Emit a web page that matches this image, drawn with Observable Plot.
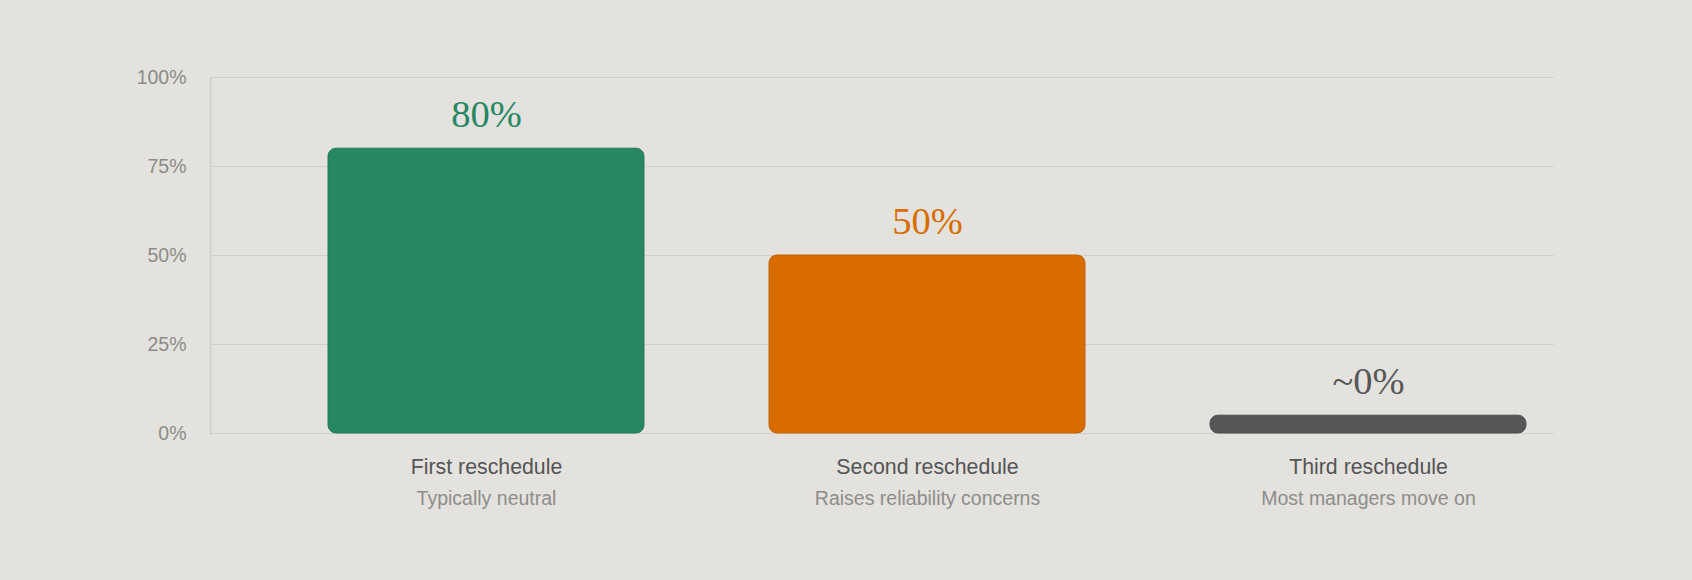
<!DOCTYPE html>
<html>
<head>
<meta charset="utf-8">
<script src="https://cdn.jsdelivr.net/npm/d3@7"></script>
<script src="https://cdn.jsdelivr.net/npm/@observablehq/plot@0.6"></script>
<style>
  html, body { margin: 0; padding: 0; background: #e3e2de; }
  #chart svg { display: block; }
</style>
</head>
<body>
<div id="chart"></div>
<script>
const categories = ["First reschedule", "Second reschedule", "Third reschedule"];
const subtitles = ["Typically neutral", "Raises reliability concerns", "Most managers move on"];
const values = [80, 50, 5];
const valueLabels = ["80%", "50%", "~0%"];
const barColors = ["#288763", "#d86c00", "#575757"];
const barStrokes = ["#237a59", "#c46200", "#4e4e4e"];
const yTicks = [0, 25, 50, 75, 100];
const yTickLabels = ["0%", "25%", "50%", "75%", "100%"];

const data = categories.map((c, i) => ({
  cat: c, sub: subtitles[i], value: values[i], label: valueLabels[i],
  fill: barColors[i], stroke: barStrokes[i]
}));
const ticks = yTicks.map((t, i) => ({t, label: yTickLabels[i]}));

const chart = Plot.plot({
  width: 1692,
  height: 580,
  marginTop: 77,
  marginBottom: 147,
  marginLeft: 210,
  marginRight: 138,
  style: {background: "#e3e2de", fontFamily: "'Liberation Sans', Arial, Helvetica, sans-serif"},
  x: {type: "band", domain: categories, range: [203, 1651], padding: 0.2834, axis: null},
  y: {domain: [0, 100], axis: null},
  marks: [
    Plot.ruleY(ticks, {y: "t", stroke: "#d1cfca", strokeWidth: 1.2}),
    Plot.frame({anchor: "left", stroke: "#cfcdc8", strokeWidth: 1.4}),
    Plot.text(ticks, {y: "t", text: "label", frameAnchor: "left", textAnchor: "end", dx: -24,
      lineAnchor: "middle", fontSize: 19.5, fill: "#8c8b88"}),
    Plot.barY(data, {x: "cat", y: "value", fill: d => d.fill, stroke: d => d.stroke, strokeWidth: 1, rx: 8}),
    Plot.text(data, {x: "cat", y: "value", text: "label", fill: d => d.fill, lineAnchor: "bottom", dy: -22,
      fontSize: 38.5, fontFamily: "'Liberation Serif', 'DejaVu Serif', serif"}),
    Plot.text(data, {x: "cat", y: 0, text: "cat", lineAnchor: "bottom", dy: 40, fontSize: 21.3, fill: "#555555"}),
    Plot.text(data, {x: "cat", y: 0, text: "sub", lineAnchor: "bottom", dy: 71, fontSize: 19.5, fill: "#8e8d8a"})
  ]
});
document.getElementById("chart").appendChild(chart);
</script>
</body>
</html>
